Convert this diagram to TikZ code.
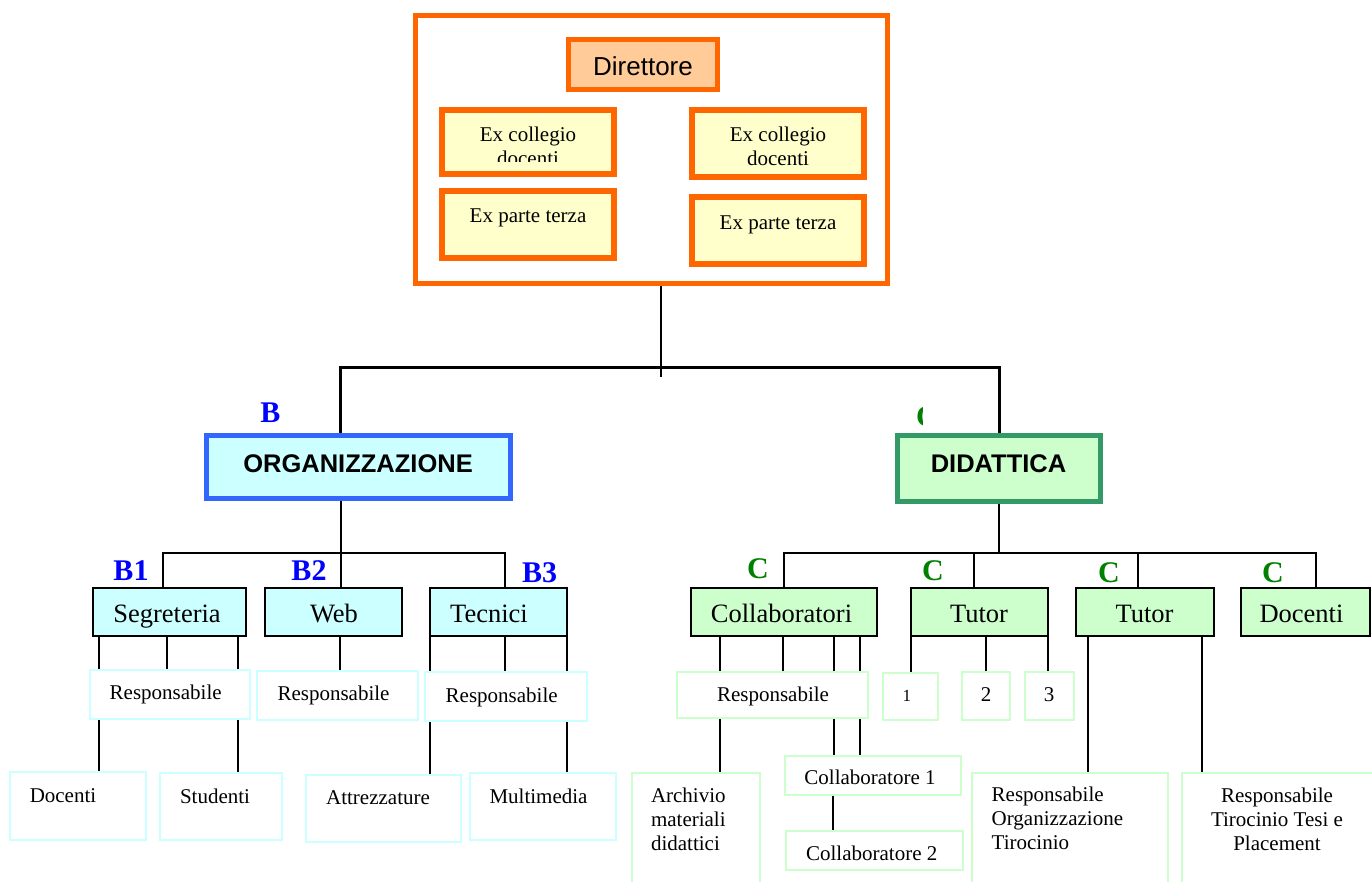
\documentclass[tikz,border=0pt]{standalone}
\usepackage{fontspec}
\setmainfont{Liberation Serif}
\newfontfamily\arialf{Liberation Sans}
\pgfdeclarelayer{bg}
\pgfsetlayers{bg,main}
\definecolor{orangeb}{HTML}{FF6600}
\definecolor{peach}{HTML}{FFCC99}
\definecolor{lyellow}{HTML}{FFFFCC}
\definecolor{blueb}{HTML}{3366FF}
\definecolor{cyanf}{HTML}{CCFFFF}
\definecolor{greenb}{HTML}{339966}
\definecolor{greenf}{HTML}{CCFFCC}
\definecolor{blab}{HTML}{0000FF}
\definecolor{glab}{HTML}{008000}
\tikzset{
  box/.style={rectangle, inner sep=0pt, outer sep=0pt},
  exbox/.style={box, draw=orangeb, fill=lyellow, line width=6pt, minimum width=172pt},
  lvtwoB/.style={box, draw=black, fill=cyanf, line width=2pt, minimum height=48pt},
  lvtwoC/.style={box, draw=black, fill=greenf, line width=2pt, minimum height=48pt},
  subB/.style={box, draw=cyanf, fill=white, line width=2pt},
  subC/.style={box, draw=greenf, fill=white, line width=2pt},
  txt/.style={inner sep=0pt, outer sep=0pt, anchor=base},
  small/.style={txt, font=\fontsize{21}{24}\selectfont},
  mid/.style={txt, font=\fontsize{26.5}{30}\selectfont},
  blabel/.style={txt, text=blab, font=\bfseries\fontsize{30}{34}\selectfont},
  glabel/.style={txt, text=glab, font=\bfseries\fontsize{30}{34}\selectfont},
  headt/.style={txt, font=\arialf\bfseries\fontsize{25.5}{30}\selectfont},
  conntwo/.style={draw=black, line width=2pt},
  connthree/.style={draw=black, line width=3pt},
}
\begin{document}
\begin{tikzpicture}[x=1pt,y=-1pt]
\useasboundingbox (0,0) rectangle (1372,882);
\begin{pgfonlayer}{bg}
\fill[white] (0,0) rectangle (1372,882);
\end{pgfonlayer}

% ---------- top block ----------
\node[box, draw=orangeb, line width=5pt, minimum width=472pt, minimum height=268pt] (outer) at (651.5,149.5) {};
\node[box, draw=orangeb, fill=peach, line width=5pt, minimum width=149pt, minimum height=50pt] (dir) at (643,64.5) {};
\node[txt, font=\arialf\fontsize{26}{30}\selectfont] (dirt) at (643,76) {Direttore};
\node[exbox, minimum height=64pt] (ecL) at (528,142) {};
\node[exbox, minimum height=67pt] (epL) at (528,224.5) {};
\node[exbox, minimum height=67pt] (ecR) at (778,143.5) {};
\node[exbox, minimum height=67pt] (epR) at (778,230.5) {};
\begin{scope}
  \clip (442,113) rectangle (614,162);
  \node[small, anchor=north, align=center] (ecLt) at (528,127.4) {Ex collegio\\docenti};
\end{scope}
\node[small, anchor=north, align=center] (ecRt) at (778,127.4) {Ex collegio\\docenti};
\node[small] (epLt) at (528,222.3) {Ex parte terza};
\node[small] (epRt) at (778,230) {Ex parte terza};

% ---------- second level ----------
\node[box, draw=blueb, fill=cyanf, line width=5pt, minimum width=304pt, minimum height=63pt] (org) at (358.5,467) {};
\node[headt] (orgt) at (358,472.7) {ORGANIZZAZIONE};
\node[box, draw=greenb, fill=greenf, line width=5pt, minimum width=203pt, minimum height=66pt] (dida) at (999,468.5) {};
\node[headt] (didat) at (998.5,472.7) {DIDATTICA};
\node[blabel] (lB) at (270.5,422) {B};
\begin{scope}
  \clip (900,400) rectangle (922.3,430);
  \node[glabel, anchor=base west] (lC) at (916,426) {C};
\end{scope}

% ---------- B branch ----------
\node[lvtwoB, minimum width=152.5pt] (segr) at (169.25,612) {};
\node[lvtwoB, minimum width=137pt] (web) at (333.5,612) {};
\node[lvtwoB, minimum width=137.4pt] (tecn) at (498.3,612) {};
\node[mid] (segrt) at (167,622) {Segreteria};
\node[mid] (webt) at (334,622) {Web};
\node[mid] (tecnt) at (489,622) {Tecnici};
\node[blabel] (lB1) at (131,580) {B1};
\node[blabel] (lB2) at (309,580) {B2};
\node[blabel] (lB3) at (539.5,582) {B3};

\node[subB, minimum width=160.4pt, minimum height=49pt] (respB) at (169.8,694.5) {};
\node[subB, minimum width=161pt, minimum height=49pt] (respW) at (337.5,695.5) {};
\node[subB, minimum width=161.6pt, minimum height=49pt] (respT) at (505.8,696.5) {};
\node[small] (respBt) at (165.7,699.3) {Responsabile};
\node[small] (respWt) at (333.5,700.3) {Responsabile};
\node[small] (respTt) at (501.7,702.3) {Responsabile};

\node[subB, minimum width=136.3pt, minimum height=67.7pt] (docB) at (77.85,805.85) {};
\node[subB, minimum width=122pt, minimum height=67pt] (stud) at (221,806.5) {};
\node[subB, minimum width=155pt, minimum height=67pt] (attr) at (383.5,808.2) {};
\node[subB, minimum width=146pt, minimum height=67pt] (multi) at (543,806.5) {};
\node[small] (docBt) at (63,802.3) {Docenti};
\node[small] (studt) at (215,803.3) {Studenti};
\node[small] (attrt) at (378,804) {Attrezzature};
\node[small] (multit) at (538.5,803.3) {Multimedia};

% ---------- C branch ----------
\node[lvtwoC, minimum width=186pt] (collab) at (783.5,612) {};
\node[lvtwoC, minimum width=137pt] (tutA) at (979.5,612) {};
\node[lvtwoC, minimum width=138pt] (tutB) at (1144.7,612) {};
\node[lvtwoC, minimum width=129.3pt] (docC) at (1305.35,612) {};
\node[mid] (collabt) at (781.5,622) {Collaboratori};
\node[mid] (tutAt) at (979,622) {Tutor};
\node[mid] (tutBt) at (1144.5,622) {Tutor};
\node[mid] (docCt) at (1301.5,622) {Docenti};
\node[glabel] (lC1) at (758,578) {C};
\node[glabel] (lC2) at (933,580.7) {C};
\node[glabel] (lC3) at (1109,582.7) {C};
\node[glabel] (lC4) at (1273,582) {C};

\node[subC, minimum width=191.4pt, minimum height=46.3pt] (respC) at (772.7,694.85) {};
\node[small] (respCt) at (773,701) {Responsabile};
\node[subC, minimum width=55.4pt, minimum height=47pt] (nA) at (910.7,696.5) {};
\node[subC, minimum width=48.9pt, minimum height=48.3pt] (nB) at (985.95,695.85) {};
\node[subC, minimum width=48.9pt, minimum height=48pt] (nC) at (1049.25,696) {};
\node[txt, font=\fontsize{17}{20}\selectfont] (nAt) at (906.8,701) {1};
\node[small] (nBt) at (986,701) {2};
\node[small] (nCt) at (1049,701) {3};

\node[subC, minimum width=128pt, minimum height=126pt] (arch) at (695.5,836) {};
\node[small, anchor=north west, align=left] (archt) at (651,788.4) {Archivio\\materiali\\didattici};
\node[subC, minimum width=176.4pt, minimum height=39pt] (collA) at (873.2,775.5) {};
\node[small] (collAt) at (870,784.3) {Collaboratore 1};
\node[subC, minimum width=177.9pt, minimum height=39pt] (collB) at (874.45,850.5) {};
\node[small] (collBt) at (871.7,860) {Collaboratore 2};
\node[subC, minimum width=196pt, minimum height=126.3pt] (rot) at (1070,835.85) {};
\node[small, anchor=north west, align=left] (rott) at (991.7,787.4) {Responsabile\\Organizzazione\\Tirocinio};
\node[subC, minimum width=217pt, minimum height=126.3pt] (rtt) at (1290.5,835.85) {};
\node[small, anchor=north, align=center] (rttt) at (1277,787.7) {Responsabile\\Tirocinio Tesi e\\Placement};

% ---------- connectors ----------
\begin{pgfonlayer}{bg}
\coordinate (tEnd) at (661,377);
\draw[conntwo] (outer.south -| tEnd) -- (tEnd);
\coordinate (hL) at (340.5,367);
\coordinate (hR) at (999,367);
\draw[connthree] (org.north -| hL) -- (hL) -- (hR) -- (dida.north);

\coordinate (bB) at (340.5,553);
\coordinate (bBA) at (163,553);
\coordinate (bBC) at (504.5,553);
\draw[conntwo] (org.south -| bB) -- (web.north -| bB);
\draw[conntwo] (segr.north -| bBA) -- (bBA) -- (bBC) -- (tecn.north -| bBC);
\draw[conntwo] (segr.south -| 99,0) -- (docB.north -| 99,0);
\draw[conntwo] (segr.south -| 167,0) -- (respB.north -| 167,0);
\draw[conntwo] (segr.south -| 238,0) -- (stud.north -| 238,0);
\draw[conntwo] (web.south -| 339.7,0) -- (respW.north -| 339.7,0);
\draw[conntwo] (tecn.south west) -- (attr.north -| tecn.south west);
\draw[conntwo] (tecn.south -| 504.5,0) -- (respT.north -| 504.5,0);
\draw[conntwo] (tecn.south east) -- (multi.north -| tecn.south east);

\coordinate (bC) at (999,553);
\coordinate (bCA) at (783.5,553);
\coordinate (bCB) at (973.5,553);
\coordinate (bCC) at (1138,553);
\coordinate (bCD) at (1315.5,553);
\draw[conntwo] (dida.south) -- (bC);
\draw[conntwo] (collab.north -| bCA) -- (bCA) -- (bCD) -- (docC.north -| bCD);
\draw[conntwo] (tutA.north -| bCB) -- (bCB);
\draw[conntwo] (tutB.north -| bCC) -- (bCC);
\draw[conntwo] (collab.south -| 720,0) -- (arch.north -| 720,0);
\draw[conntwo] (collab.south -| 783,0) -- (respC.north -| 783,0);
\draw[conntwo] (collab.south -| 834.4,0) -- (collA.north -| 834.4,0);
\draw[conntwo] (collab.south -| 860,0) -- (collA.north -| 860,0);
\draw[conntwo] (collA.south -| 832.5,0) -- (collB.north -| 832.5,0);
\draw[conntwo] (tutA.south west) -- (nA.north -| tutA.south west);
\draw[conntwo] (tutA.south -| 986,0) -- (nB.north -| 986,0);
\draw[conntwo] (tutA.south east) -- (nC.north -| tutA.south east);
\draw[conntwo] (tutB.south -| 1087.6,0) -- (rot.north -| 1087.6,0);
\draw[conntwo] (tutB.south -| 1201.8,0) -- (rtt.north -| 1201.8,0);
\end{pgfonlayer}
\end{tikzpicture}
\end{document}
